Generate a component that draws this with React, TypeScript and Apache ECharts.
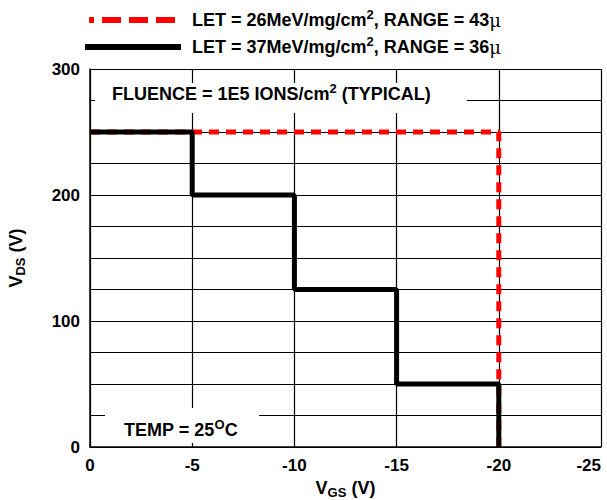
import React, { useEffect, useRef } from "react";
import * as echarts from "echarts";

const xTicks = [0, -5, -10, -15, -20, -25];
const yLabels = [0, 100, 200, 300];
const redSeries: [number, number][] = [
  [0, 250],
  [-20, 250],
  [-20, 0],
];
const blackSeries: [number, number][] = [
  [0, 250],
  [-5, 250],
  [-5, 200],
  [-10, 200],
  [-10, 125],
  [-15, 125],
  [-15, 50],
  [-20, 50],
  [-20, 0],
];
const redName = "LET = 26MeV/mg/cm2, RANGE = 43μ";
const blackName = "LET = 37MeV/mg/cm2, RANGE = 36μ";

const FONT = "'Liberation Sans', Arial, sans-serif";

const rich = {
  m: { fontSize: 18, fontWeight: "bold", fontFamily: FONT, color: "#000", lineHeight: 22 },
  sup: { fontSize: 13, fontWeight: "bold", fontFamily: FONT, color: "#000", padding: [0, 0, 11, 0] },
  sub: { fontSize: 13, fontWeight: "bold", fontFamily: FONT, color: "#000", padding: [10, 0, 0, 0] },
  mu: { fontSize: 18, fontFamily: "'DejaVu Serif', serif", color: "#000", lineHeight: 22 },
};

function legendText(s: string) {
  const i = s.indexOf("cm2");
  const before = s.slice(0, i + 2);
  const rest = s.slice(i + 3);
  const mu = rest.indexOf("μ");
  return `{m|${before}}{sup|2}{m|${rest.slice(0, mu)}}{mu|μ}`;
}

export default function App() {
  const ref = useRef<HTMLDivElement>(null);
  useEffect(() => {
    const chart = echarts.init(ref.current!, null, { renderer: "svg" });
    chart.setOption({
      animation: false,
      backgroundColor: "#fff",
      grid: {
        left: 90,
        right: 6,
        top: 69,
        bottom: 53,
        containLabel: false,
        outerBoundsMode: "none",
      },
      xAxis: {
        type: "value",
        min: -25,
        max: 0,
        interval: 5,
        inverse: true,
        axisLine: { show: true, onZero: false, lineStyle: { color: "#000", width: 1.5 } },
        axisTick: { show: false },
        axisLabel: {
          margin: 10,
          fontSize: 17,
          fontWeight: "bold",
          fontFamily: FONT,
          color: "#000",
          alignMinLabel: "right",
          formatter: (v: number) => (xTicks.includes(v) ? String(v) : ""),
        },
        splitLine: { show: true, lineStyle: { color: "#000", width: 1.2 } },
        name: "{m|V}{sub|GS}{m| (V)}",
        nameLocation: "middle",
        nameGap: 28,
        nameTextStyle: { rich },
      },
      yAxis: {
        type: "value",
        min: 0,
        max: 300,
        interval: 25,
        axisLine: { show: true, lineStyle: { color: "#000", width: 1.5 } },
        axisTick: { show: false },
        axisLabel: {
          margin: 10,
          fontSize: 17,
          fontWeight: "bold",
          fontFamily: FONT,
          color: "#000",
          formatter: (v: number) => (yLabels.includes(v) ? String(v) : ""),
        },
        splitLine: { show: true, lineStyle: { color: "#000", width: 1.2 } },
        name: "{m|V}{sub|DS}{m| (V)}",
        nameLocation: "middle",
        nameGap: 63,
        nameTextStyle: { rich },
      },
      series: [
        {
          name: redName,
          type: "line",
          data: redSeries,
          symbol: "none",
          lineStyle: { color: "#ff0000", width: 5, type: [10, 7] },
          z: 3,
        },
        {
          name: blackName,
          type: "line",
          data: blackSeries,
          symbol: "none",
          lineStyle: { color: "#000", width: 5 },
          z: 4,
        },
      ],
      graphic: [
        {
          type: "line",
          shape: { x1: 89, y1: 20, x2: 181, y2: 20 },
          style: { stroke: "#ff0000", lineWidth: 6, lineDash: [19, 8], lineDashOffset: 14 },
        },
        {
          type: "text",
          x: 192,
          y: 20,
          style: { text: legendText(redName), rich, verticalAlign: "middle", align: "left" },
        },
        {
          type: "line",
          shape: { x1: 85, y1: 47, x2: 181, y2: 47 },
          style: { stroke: "#000", lineWidth: 6 },
        },
        {
          type: "text",
          x: 192,
          y: 47,
          style: { text: legendText(blackName), rich, verticalAlign: "middle", align: "left" },
        },
        {
          type: "rect",
          shape: { x: 95, y: 83, width: 372, height: 30 },
          style: { fill: "#fff" },
          z: 10,
        },
        {
          type: "text",
          x: 112,
          y: 94,
          z: 11,
          style: {
            text: "{m|FLUENCE = 1E5 IONS/cm}{sup|2}{m| (TYPICAL)}",
            rich,
            verticalAlign: "middle",
            align: "left",
          },
        },
        {
          type: "rect",
          shape: { x: 105, y: 408, width: 154, height: 35 },
          style: { fill: "#fff" },
          z: 10,
        },
        {
          type: "text",
          x: 124,
          y: 430,
          z: 11,
          style: {
            text: "{m|TEMP = 25}{sup|O}{m|C}",
            rich,
            verticalAlign: "middle",
            align: "left",
          },
        },
      ],
    });
    return () => chart.dispose();
  }, []);
  return (
    <div
      ref={ref}
      style={{ width: 607, height: 500, position: "fixed", left: 0, top: 0 }}
    />
  );
}
